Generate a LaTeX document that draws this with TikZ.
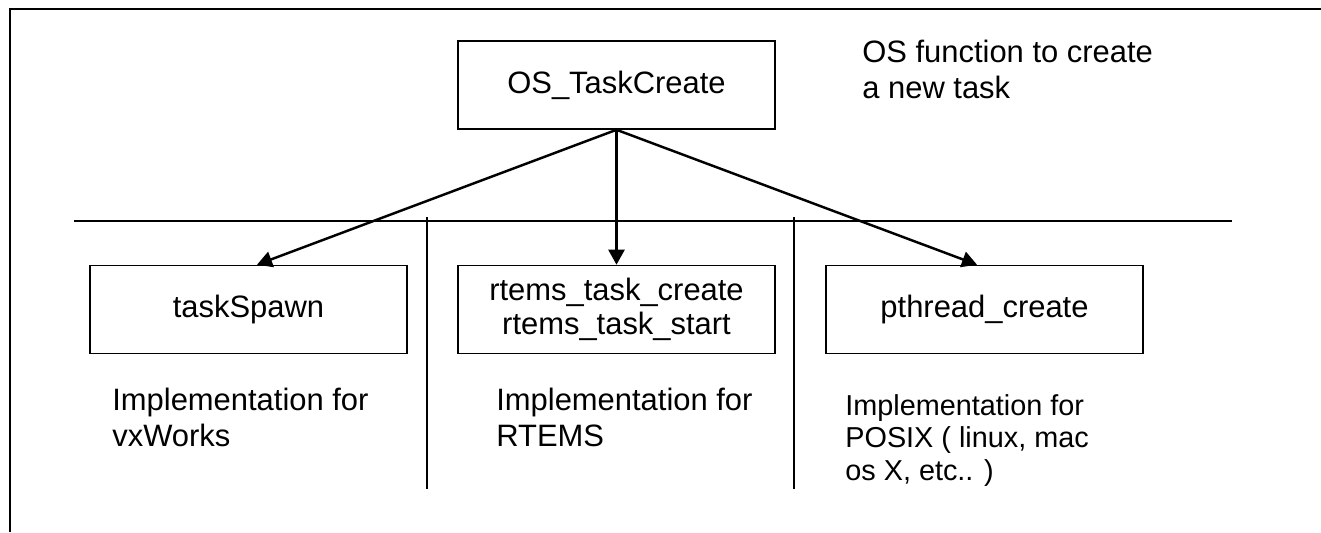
\documentclass[tikz,border=0pt]{standalone}
\usepackage{fontspec}
\setmainfont{Liberation Sans}
\usepackage{tikz}
\usetikzlibrary{arrows.meta, positioning}

\begin{document}
\begin{tikzpicture}[
    func/.style={rectangle, draw=black, line width=0.9pt, minimum width=6.34cm, minimum height=1.76cm, align=center, inner sep=0pt, font=\fontsize{17.6}{19.5}\selectfont},
    note/.style={anchor=north west, inner sep=0pt, align=left, font=\fontsize{17.6}{20.5}\selectfont},
    smallnote/.style={note, font=\fontsize{16.4}{18.6}\selectfont},
    arrow/.style={-{Triangle[length=3mm, width=3.2mm]}, line width=1.4pt},
    rule/.style={line width=1.5pt}
]
\useasboundingbox (0,0) rectangle (26.42,10.64);

% Frame
\draw[line width=1pt] (0.2,0) -- (0.2,10.46) -- (26.42,10.46);

% OS layer
\node[func] (create) at (12.33, 8.94) {OS\_TaskCreate};
\node[note] (osnote) at (17.24, 9.84) {OS function to create\\a new task};

% Separators
\draw[rule] (1.48, 6.22) -- (24.64, 6.22);
\draw[rule] (8.54, 6.30) -- (8.54, 0.86);
\draw[rule] (15.88, 6.30) -- (15.88, 0.86);

% Implementations
\node[func] (spawn) at (4.97, 4.45) {taskSpawn};
\node[func] (rtems) at (12.33, 4.45) {rtems\_task\_create\\rtems\_task\_start};
\node[func] (pthread) at (19.69, 4.45) {pthread\_create};

\node[note] (vxnote) at (2.24, 2.88) {Implementation for\\vxWorks};
\node[note] (rtemsnote) at (9.92, 2.88) {Implementation for\\RTEMS};
\node[smallnote] (posixnote) at (16.90, 2.76) {Implementation for\\POSIX ( linux, mac\\os X, etc.. )};

% Calls
\draw[arrow] (create.south) -- ([xshift=0.17cm]spawn.north);
\draw[arrow] (create.south) -- (rtems.north);
\draw[arrow] (create.south) -- ([xshift=-0.15cm]pthread.north);

\end{tikzpicture}
\end{document}
